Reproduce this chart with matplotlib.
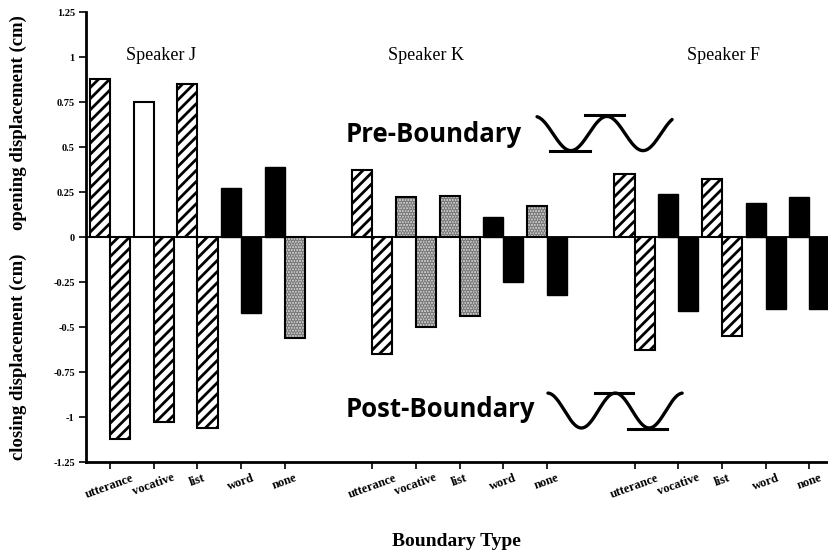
import numpy as np
import matplotlib
matplotlib.use("Agg")
import matplotlib.pyplot as plt

# boundary displacement per speaker (cm)
categories = ["utterance", "vocative", "list", "word", "none"]
speakers = ["Speaker J", "Speaker K", "Speaker F"]

pre_J = [0.88, 0.75, 0.85, 0.27, 0.39]
post_J = [-1.12, -1.03, -1.06, -0.42, -0.56]
pre_K = [0.37, 0.22, 0.23, 0.11, 0.17]
post_K = [-0.65, -0.50, -0.44, -0.25, -0.32]
pre_F = [0.35, 0.24, 0.32, 0.19, 0.22]
post_F = [-0.63, -0.41, -0.55, -0.40, -0.40]

# fill style per bar: h = hatched, w = open, k = solid, g = stippled
style_pre_J = ["h", "w", "h", "k", "k"]
style_post_J = ["h", "h", "h", "k", "g"]
style_pre_K = ["h", "g", "g", "k", "g"]
style_post_K = ["h", "g", "g", "k", "k"]
style_pre_F = ["h", "k", "h", "k", "k"]
style_post_F = ["h", "k", "h", "k", "k"]

yticks = [1.25, 1, 0.75, 0.5, 0.25, 0, -0.25, -0.5, -0.75, -1, -1.25]
ytick_labels = ["1.25", "1", "0.75", "0.5", "0.25", "0", "-0.25", "-0.5", "-0.75", "-1", "-1.25"]

pre = [pre_J, pre_K, pre_F]
post = [post_J, post_K, post_F]
style_pre = [style_pre_J, style_pre_K, style_pre_F]
style_post = [style_post_J, style_post_K, style_post_F]

serif = "Liberation Serif"
plt.rcParams["hatch.linewidth"] = 2.0

fig = plt.figure(figsize=(8.29, 5.59), dpi=100)
ax = fig.add_axes([0.1037, 0.1735, 0.8963, 0.805])

w = 0.46


def draw_bar(x, v, s):
    if s == "h":
        ax.bar(x, v, w, color="white", edgecolor="black", hatch="///", linewidth=1.5, zorder=3)
    elif s == "w":
        ax.bar(x, v, w, color="white", edgecolor="black", linewidth=1.5, zorder=3)
    elif s == "k":
        ax.bar(x, v, w, color="black", edgecolor="black", linewidth=1.0, zorder=3)
    else:
        ax.bar(x, v, w, color="#cfcfcf", edgecolor="#7a7a7a", hatch="......", linewidth=0, zorder=3)
        ax.bar(x, v, w, color="none", edgecolor="black", linewidth=1.5, zorder=4)


xpos = []
for g in range(3):
    for i in range(len(categories)):
        x = g * 6 + i
        xpos.append(x)
        draw_bar(x - w / 2, pre[g][i], style_pre[g][i])
        draw_bar(x + w / 2, post[g][i], style_post[g][i])

ax.axhline(0, color="black", lw=1.3, zorder=5)

ax.set_xlim(-0.55, 16.45)
ax.set_ylim(-1.25, 1.25)
ax.set_yticks(yticks)
ax.set_yticklabels(ytick_labels, fontfamily=serif, fontweight="bold", fontsize=7.5)
ax.set_xticks(xpos)
ax.set_xticklabels(categories * 3, rotation=20, ha="center", fontfamily=serif,
                   fontweight="bold", fontsize=9)
ax.tick_params(axis="y", direction="out", length=5, width=1.2, pad=3)
ax.tick_params(axis="x", direction="out", length=5, width=1.2, pad=2)
for side in ["top", "right"]:
    ax.spines[side].set_visible(False)
for side in ["left", "bottom"]:
    ax.spines[side].set_linewidth(2)

# speaker headings
for g, name in enumerate(speakers):
    ax.text(g * 6 + [1.17, 1.23, 2.03][g], 1.008, name, ha="center", va="center",
            fontfamily=serif, fontsize=13)

# boundary side labels with small wave icons
ax.text(5.38, 0.571, "Pre-Boundary", ha="left", va="center", fontfamily="Open Sans",
        fontweight="bold", fontsize=18.5)
ax.text(5.38, -0.958, "Post-Boundary", ha="left", va="center", fontfamily="Open Sans",
        fontweight="bold", fontsize=18.5)


def wave(x0, x1, xpeak, period, mid, amp):
    xs = np.linspace(x0, x1, 200)
    ys = mid + amp * np.cos(2 * np.pi * (xs - xpeak) / period)
    ax.plot(xs, ys, color="black", lw=2.4, zorder=6, solid_capstyle="round")


wave(9.77, 12.86, 11.37, 1.65, 0.575, 0.095)
ax.plot([10.07, 10.98], [0.476, 0.476], color="black", lw=2.2, zorder=6)
ax.plot([10.87, 11.76], [0.676, 0.676], color="black", lw=2.2, zorder=6)

wave(10.02, 13.09, 11.56, 1.55, -0.964, 0.097)
ax.plot([11.10, 11.97], [-0.864, -0.864], color="black", lw=2.2, zorder=6)
ax.plot([11.85, 12.75], [-1.069, -1.069], color="black", lw=2.2, zorder=6)

fig.text(0.022, 0.78, "opening displacement (cm)", rotation=90, ha="center", va="center",
         fontfamily=serif, fontweight="bold", fontsize=13.5)
fig.text(0.022, 0.361, "closing displacement (cm)", rotation=90, ha="center", va="center",
         fontfamily=serif, fontweight="bold", fontsize=13.5)
fig.text(0.55, 0.032, "Boundary Type", ha="center", va="center",
         fontfamily=serif, fontweight="bold", fontsize=14)

fig.savefig("out.png", dpi=100)
